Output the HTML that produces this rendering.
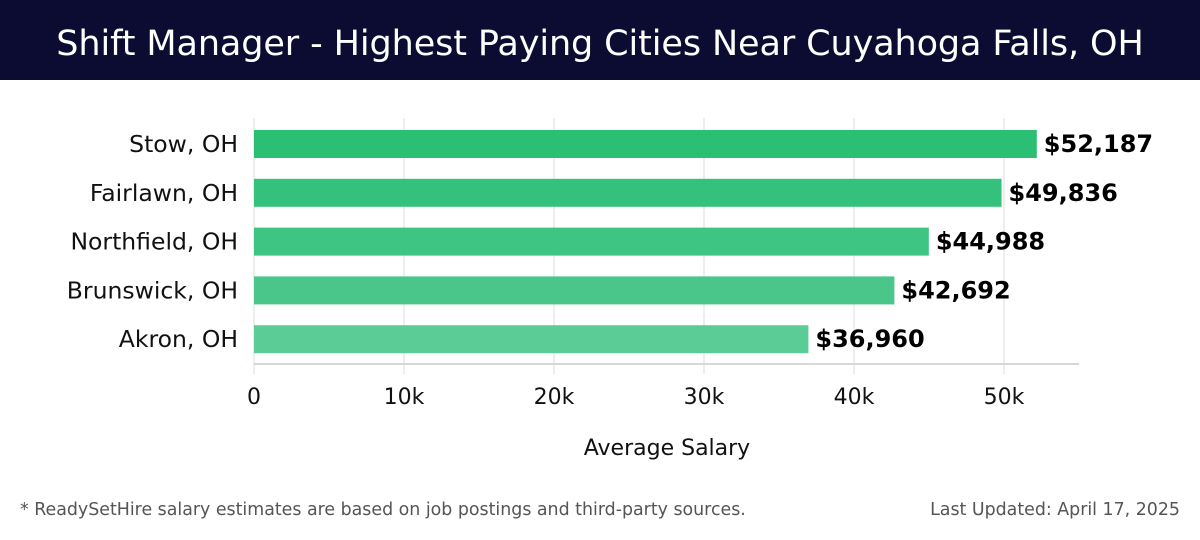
<!DOCTYPE html>
<html><head><meta charset="utf-8"><style>
body{margin:0;width:1200px;height:540px;background:#fff;font-family:"Liberation Sans",sans-serif;overflow:hidden}
#hdr{position:absolute;left:0;top:0;width:1200px;height:80px;background:#0c0c33;color:#fff;font-size:35px;text-align:center;line-height:88px;font-family:"DejaVu Sans","Liberation Sans",sans-serif;letter-spacing:-0.1px}
.foot{position:absolute;top:500px;font-size:17.4px;color:#555;font-family:"DejaVu Sans",sans-serif}
</style></head><body>
<div id="hdr">Shift Manager - Highest Paying Cities Near Cuyahoga Falls, OH</div>
<svg id="c" width="1200" height="540" style="position:absolute;left:0;top:0"></svg>
<div class="foot" style="left:20px">* ReadySetHire salary estimates are based on job postings and third-party sources.</div>
<div class="foot" style="right:20px">Last Updated: April 17, 2025</div>
<script>
const cities=["Stow, OH","Fairlawn, OH","Northfield, OH","Brunswick, OH","Akron, OH"];
const salaries=[52187,49836,44988,42692,36960];
const ticks=[0,10000,20000,30000,40000,50000];
const tickLabels=["0","10k","20k","30k","40k","50k"];
const colors=["#2abf73","#33c17b","#3ec584","#4ac68a","#5ccc96"];
const NS="http://www.w3.org/2000/svg",svg=document.getElementById("c");
const x=v=>254+v*0.015, y=i=>130+i*48.8, bh=28;
function mk(t,a,txt){const e=document.createElementNS(NS,t);for(const k in a)e.setAttribute(k,a[k]);if(txt!==undefined)e.textContent=txt;svg.appendChild(e);return e;}
ticks.forEach((t,i)=>{
 const g=mk("line",{x1:x(t),x2:x(t),y1:118,y2:374,stroke:"#ddd","stroke-width":1});
 
 
 const l=mk("text",{x:x(t),y:404,"text-anchor":"middle","font-size":22,fill:"#111","font-family":"DejaVu Sans, sans-serif"},tickLabels[i]);
 
 
});
const ax=mk("line",{x1:254,x2:1079,y1:364,y2:364,stroke:"#ccc","stroke-width":1.5});


cities.forEach((c,i)=>{
 const r=mk("rect",{x:x(0),y:y(i),width:x(salaries[i])-x(0),height:bh,fill:colors[i]});
 
 
 const cl=mk("text",{x:238,y:y(i)+bh/2+8,"text-anchor":"end","font-size":23.5,fill:"#111","font-family":"DejaVu Sans, sans-serif"},c);
 
 
 const v=mk("text",{x:x(salaries[i])+7,y:y(i)+bh/2+8,"font-size":24,"font-weight":"bold",fill:"#000","font-family":"DejaVu Sans, sans-serif"},"$"+salaries[i].toLocaleString("en-US"));
 
 
});
const at=mk("text",{x:667,y:455,"text-anchor":"middle","font-size":22,fill:"#111","font-family":"DejaVu Sans, sans-serif"},"Average Salary");


</script>
</body></html>
